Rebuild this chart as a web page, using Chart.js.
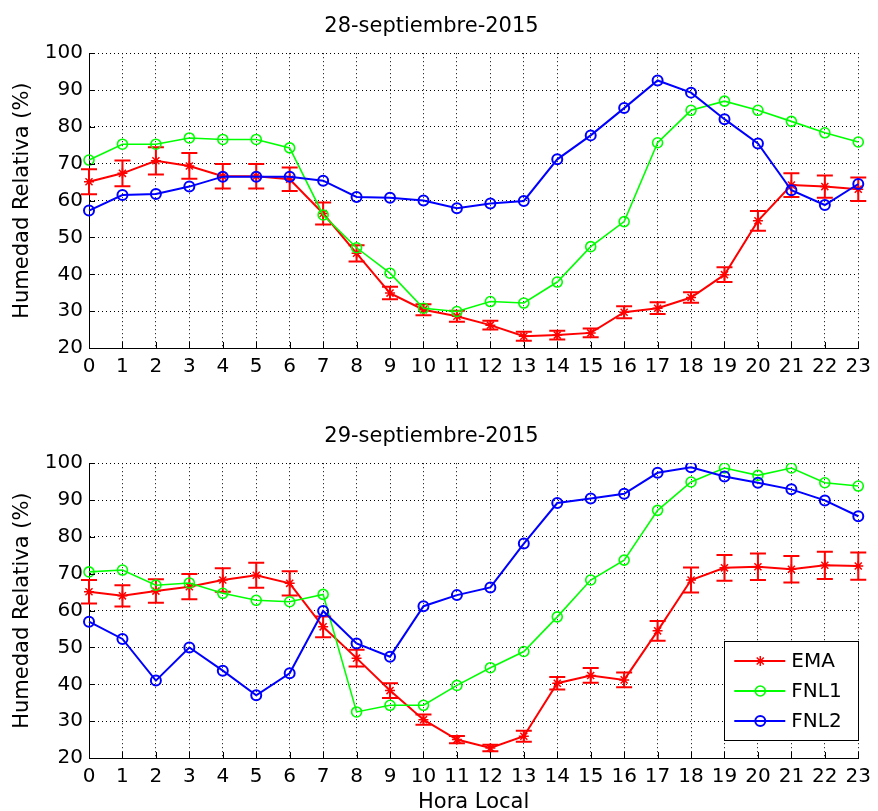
<!DOCTYPE html>
<html>
<head>
<meta charset="utf-8">
<script src="https://cdn.jsdelivr.net/npm/chart.js@4.4.1/dist/chart.umd.min.js"></script>
<style>
  html, body { margin: 0; padding: 0; background: #fff; overflow: hidden; }
  .panel { position: absolute; left: 0; width: 878px; height: 405px; }
  #panel28 { top: 0; }
  #panel29 { top: 410px; }
</style>
</head>
<body>
<div class="panel" id="panel28"><canvas id="chart28" width="878" height="405"></canvas></div>
<div class="panel" id="panel29"><canvas id="chart29" width="878" height="405"></canvas></div>
<script>
'use strict';

// ── Data ──────────────────────────────────────────────────────────────────────
const HOURS = ['0', '1', '2', '3', '4', '5', '6', '7', '8', '9', '10', '11',
               '12', '13', '14', '15', '16', '17', '18', '19', '20', '21', '22', '23'];
const Y_TICKS = [20, 30, 40, 50, 60, 70, 80, 90, 100];

// 28-septiembre-2015
const EMA_28     = [65.1, 67.4, 70.8, 69.4, 66.6, 66.6, 65.8, 56.5, 45.7, 34.9, 30.4, 28.6,
                    26.2, 23.2, 23.5, 24.1, 29.7, 30.8, 33.7, 39.9, 54.5, 64.2, 63.8, 63.1];
const EMA_28_ERR = [3.4, 3.5, 3.7, 3.5, 3.3, 3.3, 3.2, 3.0, 2.2, 1.7, 1.5, 1.5,
                    1.2, 1.2, 1.2, 1.2, 1.6, 1.6, 1.4, 2.0, 2.7, 3.2, 3.0, 3.2];
const FNL1_28    = [71.0, 75.3, 75.3, 77.0, 76.6, 76.6, 74.3, 56.1, 47.2, 40.3, 30.8, 29.9,
                    32.6, 32.2, 37.9, 47.5, 54.3, 75.7, 84.5, 87.0, 84.5, 81.5, 78.4, 75.9];
const FNL2_28    = [57.3, 61.5, 61.8, 63.8, 66.5, 66.5, 66.5, 65.4, 61.0, 60.8, 60.0, 57.9,
                    59.2, 59.9, 71.2, 77.7, 85.1, 92.6, 89.3, 82.1, 75.5, 62.8, 58.8, 64.5];

// 29-septiembre-2015
const EMA_29     = [65.1, 64.0, 65.3, 66.5, 68.3, 69.6, 67.4, 55.6, 47.1, 38.3, 30.4, 25.0,
                    22.7, 25.9, 40.3, 42.4, 41.2, 54.5, 68.3, 71.6, 71.9, 71.2, 72.3, 72.1];
const EMA_29_ERR = [3.2, 2.9, 3.2, 3.4, 3.2, 3.4, 3.3, 2.8, 2.3, 2.0, 1.4, 1.0,
                    0.9, 1.5, 1.7, 2.0, 2.0, 2.7, 3.4, 3.5, 3.6, 3.6, 3.7, 3.7];
const FNL1_29    = [70.5, 71.0, 66.9, 67.5, 64.7, 62.8, 62.4, 64.4, 32.5, 34.3, 34.3, 39.7,
                    44.5, 48.9, 58.3, 68.3, 73.7, 87.2, 94.9, 98.7, 96.7, 98.7, 94.7, 93.8];
const FNL2_29    = [57.0, 52.3, 41.0, 50.0, 43.7, 37.0, 43.0, 59.9, 51.1, 47.5, 61.2, 64.2,
                    66.3, 78.2, 89.2, 90.4, 91.7, 97.4, 98.9, 96.4, 94.7, 92.9, 89.9, 85.6];

// ── Styles ────────────────────────────────────────────────────────────────────
const FONT = 'DejaVu Sans';
const RED = '#ff0000', GREEN = '#00ff00', BLUE = '#0000ff';

// ── Plugins ───────────────────────────────────────────────────────────────────
// vertical error bars with caps, drawn right after the EMA line
const errorBars = {
  id: 'errorBars',
  afterDatasetDraw(chart, args) {
    const ds = chart.data.datasets[args.index];
    if (!ds.errorBars) return;
    const y = chart.scales.y;
    const ctx = chart.ctx;
    ctx.save();
    ctx.strokeStyle = ds.borderColor;
    ctx.lineWidth = 2;
    args.meta.data.forEach((pt, i) => {
      const v = ds.data[i], e = ds.errorBars[i];
      const y1 = y.getPixelForValue(v + e), y2 = y.getPixelForValue(v - e);
      ctx.beginPath();
      ctx.moveTo(pt.x, y1); ctx.lineTo(pt.x, y2);
      ctx.moveTo(pt.x - 8, y1); ctx.lineTo(pt.x + 8, y1);
      ctx.moveTo(pt.x - 8, y2); ctx.lineTo(pt.x + 8, y2);
      ctx.stroke();
    });
    ctx.restore();
  }
};

// short inward tick marks on the left and bottom axes
const innerTicks = {
  id: 'innerTicks',
  afterDraw(chart) {
    const {ctx, chartArea: a, scales: {x, y}} = chart;
    ctx.save();
    ctx.strokeStyle = '#000';
    ctx.lineWidth = 1;
    ctx.beginPath();
    x.ticks.forEach((t, i) => {
      const px = Math.round(x.getPixelForTick(i)) + 0.5;
      ctx.moveTo(px, a.bottom); ctx.lineTo(px, a.bottom - 6);
    });
    y.ticks.forEach((t, i) => {
      const py = Math.round(y.getPixelForTick(i)) + 0.5;
      ctx.moveTo(a.left, py); ctx.lineTo(a.left + 6, py);
    });
    ctx.stroke();
    ctx.restore();
  }
};

// boxed legend in the lower right corner of the plot
const boxLegend = {
  id: 'boxLegend',
  afterDraw(chart, args, opts) {
    if (!opts.display) return;
    const {ctx, chartArea: a} = chart;
    const w = 134, h = 99;
    const left = a.right - w, top = a.bottom - 18 - h;
    ctx.save();
    ctx.fillStyle = '#fff';
    ctx.fillRect(left, top, w, h);
    ctx.strokeStyle = '#000';
    ctx.lineWidth = 1;
    ctx.strokeRect(Math.round(left) + 0.5, Math.round(top) + 0.5, w, h);
    ctx.font = '20px "' + FONT + '"';
    ctx.textBaseline = 'middle';
    const rows = [20, 50, 80];
    chart.data.datasets.forEach((ds, i) => {
      const cy = top + rows[i];
      ctx.strokeStyle = ds.borderColor;
      ctx.lineWidth = 2;
      ctx.beginPath();
      ctx.moveTo(left + 10, cy); ctx.lineTo(left + 61, cy);
      ctx.stroke();
      ctx.fillStyle = ds.pointBackgroundColor;
      ctx.lineWidth = ds.pointBorderWidth;
      Chart.helpers.drawPoint(ctx, {
        pointStyle: ds.pointStyle, radius: ds.pointRadius,
        borderWidth: ds.pointBorderWidth, rotation: 0
      }, left + 36, cy);
      ctx.fillStyle = '#000';
      ctx.fillText(ds.label, left + 67, cy + 1);
    });
    ctx.restore();
  }
};

// ── Chart builder ─────────────────────────────────────────────────────────────
function makeChart(canvasId, title, ema, emaErr, fnl1, fnl2, lastPanel) {
  return new Chart(document.getElementById(canvasId), {
    type: 'line',
    data: {
      labels: HOURS,
      datasets: [
        {
          label: 'EMA', data: ema, errorBars: emaErr, order: 3,
          borderColor: RED, borderWidth: 2, pointStyle: 'star',
          pointRadius: 5, pointBorderWidth: 1.5, pointBackgroundColor: RED,
          tension: 0
        },
        {
          label: 'FNL1', data: fnl1, order: 2,
          borderColor: GREEN, borderWidth: 1.6, pointStyle: 'circle',
          pointRadius: 5, pointBorderWidth: 1.6, pointBackgroundColor: 'rgba(0,0,0,0)',
          tension: 0
        },
        {
          label: 'FNL2', data: fnl2, order: 1,
          borderColor: BLUE, borderWidth: 2, pointStyle: 'circle',
          pointRadius: 5, pointBorderWidth: 2, pointBackgroundColor: 'rgba(0,0,0,0)',
          tension: 0
        }
      ]
    },
    options: {
      responsive: false,
      animation: false,
      events: [],
      layout: { padding: { left: 0, right: 15, top: 0, bottom: 0 } },
      plugins: {
        legend: { display: false },
        tooltip: { enabled: false },
        title: {
          display: true, text: title, color: '#000',
          font: { family: FONT, size: 21, weight: 'normal' },
          padding: { top: 14, bottom: 14 }
        },
        boxLegend: { display: lastPanel }
      },
      scales: {
        x: {
          offset: false,
          afterFit: s => { s.height = 57; },
          grid: { display: true, offset: false, color: '#000', lineWidth: 1, drawTicks: false },
          border: { display: true, color: '#000', width: 1, dash: [1, 3] },
          ticks: {
            color: '#000', padding: 7, maxRotation: 0, autoSkip: false,
            font: { family: FONT, size: 20 }
          },
          title: {
            display: lastPanel, text: 'Hora Local', color: '#000',
            font: { family: FONT, size: 21 }, padding: { top: 0, bottom: 0 }
          }
        },
        y: {
          min: 20, max: 100,
          afterFit: s => { s.width = 89; },
          afterBuildTicks: s => { s.ticks = Y_TICKS.map(v => ({ value: v })); },
          grid: { display: true, color: '#000', lineWidth: 1, drawTicks: false },
          border: { display: true, color: '#000', width: 1, dash: [1, 3] },
          ticks: {
            color: '#000', padding: 6,
            font: { family: FONT, size: 20 }
          },
          title: {
            display: true, text: 'Humedad Relativa (%)', color: '#000',
            font: { family: FONT, size: 21 }, padding: { top: 10, bottom: 0 }
          }
        }
      }
    },
    plugins: [errorBars, innerTicks, boxLegend]
  });
}

// ── Start ─────────────────────────────────────────────────────────────────────
makeChart('chart28', '28-septiembre-2015', EMA_28, EMA_28_ERR, FNL1_28, FNL2_28, false);
makeChart('chart29', '29-septiembre-2015', EMA_29, EMA_29_ERR, FNL1_29, FNL2_29, true);
</script>
</body>
</html>
